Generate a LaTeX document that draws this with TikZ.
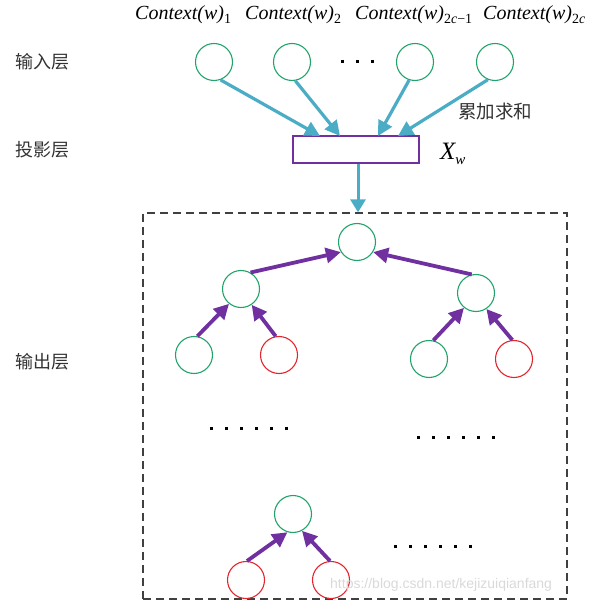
\documentclass[tikz,border=0pt]{standalone}
\usepackage{fontspec}
\setmainfont{Liberation Serif}
\newfontfamily\cjk{Noto Sans CJK SC}
\newfontfamily\wmfont{Liberation Sans}
\usetikzlibrary{arrows.meta}
\definecolor{cgreen}{HTML}{22A36B}
\definecolor{cred}{HTML}{E3262E}
\definecolor{ccyan}{HTML}{4BACC6}
\definecolor{cpurple}{HTML}{7030A0}
\definecolor{ctext}{HTML}{333333}
\begin{document}
\begin{tikzpicture}[x=1pt,y=-1pt,
  gnode/.style={circle,draw=cgreen,line width=1.1pt,minimum size=37pt,inner sep=0pt},
  rnode/.style={gnode,draw=cred},
  inarrow/.style={draw=ccyan,line width=3.2pt,-{Triangle[length=15pt,width=15pt]}},
  treearrow/.style={draw=cpurple,line width=3.8pt,-{Triangle[length=15pt,width=15pt]}},
  layer/.style={font=\cjk\fontsize{18}{20}\selectfont,text=ctext,inner sep=0pt},
  ctx/.style={font=\fontsize{20}{22}\selectfont\itshape,inner sep=0pt,anchor=base west},
  dotsq/.style={fill=black}]
\useasboundingbox (0,0) rectangle (592,601);

% top labels
\node[ctx] (c1) at (135,20) {Context(w)\textsubscript{\upshape 1}};
\node[ctx] (c2) at (245,20) {Context(w)\textsubscript{\upshape 2}};
\node[ctx] (c3) at (355,20) {Context(w)\textsubscript{\upshape 2\itshape c\upshape −1}};
\node[ctx] (c4) at (483,20) {Context(w)\textsubscript{\upshape 2\itshape c}};

% layer labels
\node[layer] (lin) at (42,62) {输入层};
\node[layer] (lproj) at (42,150) {投影层};
\node[layer] (lout) at (42,362) {输出层};

% input nodes
\node[gnode] (in1) at (214,62) {};
\node[gnode] (in2) at (292,62) {};
\node[gnode] (in3) at (415,62) {};
\node[gnode] (in4) at (495,62) {};
\foreach \i in {0,1,2} \fill[dotsq] (342+15*\i-1.5,62-1.5) rectangle ++(3,3);

% projection
\node[draw=cpurple,line width=2pt,minimum width=126pt,minimum height=27pt,inner sep=0pt] (proj) at (356,150) {};
\coordinate (p1) at (320,136);
\coordinate (p2) at (340,136);
\coordinate (p3) at (378,136);
\coordinate (p4) at (398,136);
\draw[inarrow] (in1.-70) -- (p1);
\draw[inarrow] (in2.-80) -- (p2);
\draw[inarrow] (in3.-108) -- (p3);
\draw[inarrow] (in4.-112) -- (p4);

\node[font=\cjk\fontsize{18.5}{20}\selectfont,text=ctext,inner sep=0pt] (sum) at (495,112) {累加求和};
\node[inner sep=0pt,anchor=base west] (xw) at (440,160) {{\fontsize{25}{27}\selectfont\itshape X}\raisebox{-5pt}{\fontsize{15}{16}\selectfont\itshape w}};

% output box
\node[draw=black!75,dash pattern=on 8pt off 5pt,line width=1.3pt,minimum width=424pt,minimum height=386pt,inner sep=0pt] (outbox) at (355,406) {};
\draw[inarrow,line width=3pt,-{Triangle[length=13pt,width=15pt]}] (proj.south -| 358,0) -- (outbox.north -| 358,0);

% tree
\node[gnode] (root) at (357,242) {};
\node[gnode] (l2a) at (241,289) {};
\node[gnode] (l2b) at (476,293) {};
\node[gnode] (lf1) at (194,355) {};
\node[rnode] (lf2) at (279,355) {};
\node[gnode] (lf3) at (429,359) {};
\node[rnode] (lf4) at (514,359) {};
\draw[treearrow] (l2a.60) -- (root.212);
\draw[treearrow] (l2b.103) -- (root.-32);
\draw[treearrow] (lf1.80) -- (l2a.-129);
\draw[treearrow] (lf2.100) -- (l2a.-56);
\draw[treearrow] (lf3.77) -- (l2b.-129);
\draw[treearrow] (lf4.95) -- (l2b.-57);

% ellipsis rows
\foreach \i in {0,...,5} \fill[dotsq] (211+15*\i-1.5,428-1.5) rectangle ++(3,3);
\foreach \i in {0,...,5} \fill[dotsq] (418+15*\i-1.5,437-1.5) rectangle ++(3,3);
\foreach \i in {0,...,5} \fill[dotsq] (395+15*\i-1.5,546-1.5) rectangle ++(3,3);

% bottom subtree
\node[gnode] (b) at (293,514) {};
\node[rnode] (b1) at (246,580) {};
\node[rnode] (b2) at (331,580) {};
\draw[treearrow] (b1.87) -- (b.-107);
\draw[treearrow] (b2.93) -- (b.-62);

% watermark
\node[font=\wmfont\fontsize{14}{16}\selectfont,text=black!15,inner sep=0pt,anchor=base west] (wm) at (330,588) {https://blog.csdn.net/kejizuiqianfang};
\end{tikzpicture}
\end{document}
